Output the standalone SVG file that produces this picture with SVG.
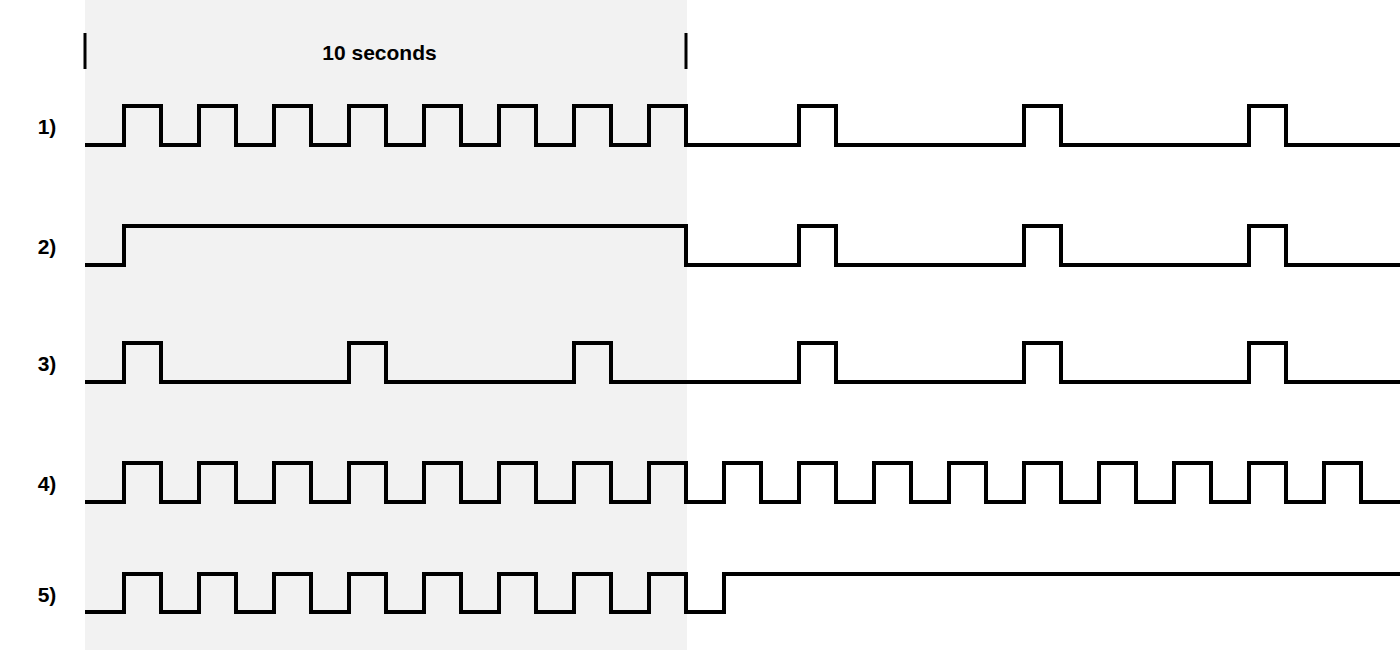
<svg xmlns="http://www.w3.org/2000/svg" width="1400" height="650" viewBox="0 0 1400 650">
<style>
.wave{fill:none;stroke:#000;stroke-width:4;stroke-linejoin:miter;stroke-linecap:butt}
.tick{stroke:#000;stroke-width:3}
.lbl{font-family:"Liberation Sans",Arial,sans-serif;font-weight:bold;font-size:21px;fill:#000}
</style>
<rect x="0" y="0" width="1400" height="650" fill="#fff"/>
<g id="window">
<rect x="85" y="0" width="602" height="650" fill="#f2f2f2"/>
<line class="tick" x1="85" y1="33" x2="85" y2="69"/>
<line class="tick" x1="686" y1="33" x2="686" y2="69"/>
<text class="lbl" x="379.5" y="60" text-anchor="middle" font-size="23">10 seconds</text>
</g>
<g id="labels">
<text class="lbl" x="47" y="134" text-anchor="middle">1)</text>
<text class="lbl" x="47" y="254" text-anchor="middle">2)</text>
<text class="lbl" x="47" y="371" text-anchor="middle">3)</text>
<text class="lbl" x="47" y="491" text-anchor="middle">4)</text>
<text class="lbl" x="47" y="602" text-anchor="middle">5)</text>
</g>
<g id="waves">
<path id="row1" class="wave" d="M85 145 H124 V106 H161 V145 H199 V106 H236 V145 H274 V106 H311 V145 H349 V106 H386 V145 H424 V106 H461 V145 H499 V106 H536 V145 H574 V106 H611 V145 H649 V106 H686 V145 H799 V106 H836 V145 H1024 V106 H1061 V145 H1249 V106 H1286 V145 H1400"/>
<path id="row2" class="wave" d="M85 265 H124 V226 H686 V265 H799 V226 H836 V265 H1024 V226 H1061 V265 H1249 V226 H1286 V265 H1400"/>
<path id="row3" class="wave" d="M85 382 H124 V343 H161 V382 H349 V343 H386 V382 H574 V343 H611 V382 H799 V343 H836 V382 H1024 V343 H1061 V382 H1249 V343 H1286 V382 H1400"/>
<path id="row4" class="wave" d="M85 502 H124 V463 H161 V502 H199 V463 H236 V502 H274 V463 H311 V502 H349 V463 H386 V502 H424 V463 H461 V502 H499 V463 H536 V502 H574 V463 H611 V502 H649 V463 H686 V502 H724 V463 H761 V502 H799 V463 H836 V502 H874 V463 H911 V502 H949 V463 H986 V502 H1024 V463 H1061 V502 H1099 V463 H1136 V502 H1174 V463 H1211 V502 H1249 V463 H1286 V502 H1324 V463 H1361 V502 H1400"/>
<path id="row5" class="wave" d="M85 612 H124 V574 H161 V612 H199 V574 H236 V612 H274 V574 H311 V612 H349 V574 H386 V612 H424 V574 H461 V612 H499 V574 H536 V612 H574 V574 H611 V612 H649 V574 H686 V612 H724 V574 H1400"/>
</g>
</svg>
